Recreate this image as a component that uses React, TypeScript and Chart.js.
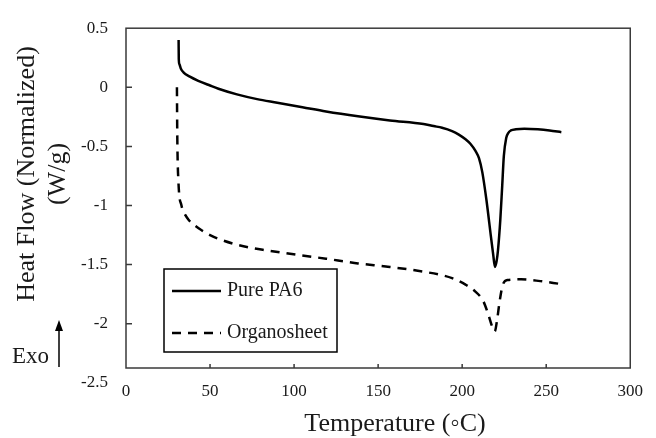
import React, { useEffect, useRef } from "react";
import { Chart, registerables } from "chart.js";

Chart.register(...registerables);

// ---- Data ----
const pureTemp = [31.3, 31.4, 31.8, 32.6, 34.3, 38, 43, 50, 55, 66, 78, 90, 105, 119, 138, 157, 177, 183, 188, 194, 198, 202, 205, 208, 210, 212, 214.5, 217, 218.5, 219.5, 220.5, 221.3, 222.7, 223.8, 224.8, 226.2, 227.5, 229, 232, 237, 245, 252, 259];
const pureHeat = [0.4, 0.24, 0.195, 0.16, 0.125, 0.09, 0.055, 0.015, -0.012, -0.06, -0.1, -0.13, -0.168, -0.204, -0.245, -0.28, -0.31, -0.328, -0.342, -0.37, -0.4, -0.44, -0.48, -0.54, -0.6, -0.72, -0.96, -1.25, -1.42, -1.52, -1.47, -1.38, -1.12, -0.84, -0.58, -0.43, -0.385, -0.365, -0.355, -0.35, -0.355, -0.365, -0.38];

const orgTemp = [30.3, 30.5, 31.2, 33, 34.5, 37.2, 41, 45, 50, 54.7, 64.3, 75, 84, 103, 119, 132, 138, 157, 177, 188, 194, 202, 207.7, 212.6, 215.5, 218.4, 219.4, 220.7, 222.3, 224.2, 227.1, 235, 246.5, 258];
const orgHeat = [0.0, -0.4, -0.8, -1.0, -1.06, -1.12, -1.17, -1.21, -1.25, -1.28, -1.325, -1.36, -1.38, -1.42, -1.45, -1.478, -1.49, -1.52, -1.56, -1.59, -1.615, -1.67, -1.727, -1.81, -1.92, -2.045, -2.065, -1.976, -1.81, -1.67, -1.63, -1.625, -1.64, -1.663];

const seriesNames = ["Pure PA6", "Organosheet"];
const xTicks = [0, 50, 100, 150, 200, 250, 300];
const yTicks = [0.5, 0, -0.5, -1, -1.5, -2, -2.5];
const xTitle = "Temperature (\u25E6C)";
const yTitleLines = ["Heat Flow (Normalized)", "(W/g)"];
const exoLabel = "Exo";

const FONT = "'Liberation Serif', 'Times New Roman', Times, serif";
const TEXT = "#1a1a1a";

const decorPlugin = {
  id: "decor",
  afterDraw(chart: any) {
    const { ctx, chartArea, scales } = chart;
    const { left, right, top, bottom } = chartArea;
    const x = scales.x;
    const y = scales.y;
    ctx.save();
    // plot box
    ctx.strokeStyle = "#3a3a3a";
    ctx.lineWidth = 1.5;
    ctx.setLineDash([]);
    ctx.strokeRect(left, top, right - left, bottom - top);
    // inside tick marks
    ctx.beginPath();
    yTicks.forEach((v) => {
      if (v >= 0.5 || v <= -2.5) return;
      const py = y.getPixelForValue(v);
      ctx.moveTo(left, py);
      ctx.lineTo(left + 6, py);
    });
    xTicks.forEach((v) => {
      if (v <= 0 || v >= 300) return;
      const px = x.getPixelForValue(v);
      ctx.moveTo(px, bottom);
      ctx.lineTo(px, bottom - 4);
    });
    ctx.stroke();

    ctx.fillStyle = TEXT;
    // x title
    ctx.font = `26px ${FONT}`;
    ctx.textAlign = "center";
    ctx.textBaseline = "middle";
    ctx.fillText(xTitle, 395, 424);
    // y title (two lines, rotated)
    ctx.save();
    ctx.translate(27, 174);
    ctx.rotate(-Math.PI / 2);
    ctx.fillText(yTitleLines[0], 0, 0);
    ctx.fillText(yTitleLines[1], 0, 31);
    ctx.restore();

    // Exo arrow
    ctx.font = `23px ${FONT}`;
    ctx.textAlign = "left";
    ctx.textBaseline = "alphabetic";
    ctx.fillText(exoLabel, 12, 363);
    ctx.strokeStyle = "#000";
    ctx.lineWidth = 1.5;
    ctx.beginPath();
    ctx.moveTo(59, 367);
    ctx.lineTo(59, 328);
    ctx.stroke();
    ctx.beginPath();
    ctx.moveTo(59, 320);
    ctx.lineTo(55, 331);
    ctx.lineTo(63, 331);
    ctx.closePath();
    ctx.fillStyle = "#000";
    ctx.fill();

    // legend
    ctx.strokeStyle = "#000";
    ctx.lineWidth = 1.5;
    ctx.strokeRect(164, 269, 173, 83);
    const rows = [291, 333];
    chart.data.datasets.forEach((ds: any, i: number) => {
      const ly = rows[i];
      ctx.beginPath();
      ctx.lineWidth = 2.5;
      ctx.setLineDash(ds.borderDash || []);
      ctx.moveTo(172, ly);
      ctx.lineTo(221, ly);
      ctx.stroke();
      ctx.setLineDash([]);
      ctx.fillStyle = TEXT;
      ctx.font = `20px ${FONT}`;
      ctx.textAlign = "left";
      ctx.textBaseline = "middle";
      ctx.fillText(ds.label, 227, ly);
    });
    ctx.restore();
  },
};

export default function App() {
  const ref = useRef<HTMLCanvasElement | null>(null);
  useEffect(() => {
    if (!ref.current) return;
    const chart = new Chart(ref.current, {
      type: "line",
      data: {
        datasets: [
          {
            label: seriesNames[0],
            data: pureTemp.map((t, i) => ({ x: t, y: pureHeat[i] })),
            borderColor: "#000",
            borderWidth: 2.5,
            pointRadius: 0,
            cubicInterpolationMode: "monotone",
            fill: false,
          },
          {
            label: seriesNames[1],
            data: orgTemp.map((t, i) => ({ x: t, y: orgHeat[i] })),
            borderColor: "#000",
            borderWidth: 2.5,
            borderDash: [9, 7],
            pointRadius: 0,
            cubicInterpolationMode: "monotone",
            fill: false,
          },
        ],
      },
      options: {
        animation: false,
        responsive: false,
        maintainAspectRatio: false,
        layout: { padding: { top: 22, right: 14, left: 0, bottom: 0 } },
        plugins: { legend: { display: false }, tooltip: { enabled: false } },
        scales: {
          x: {
            type: "linear",
            min: 0,
            max: 300,
            grid: { display: false, drawTicks: false, tickLength: 0 },
            border: { display: false },
            afterBuildTicks: (axis: any) => {
              axis.ticks = xTicks.map((v) => ({ value: v }));
            },
            afterFit: (axis: any) => {
              axis.height = 70;
            },
            ticks: {
              autoSkip: false,
              maxRotation: 0,
              padding: 13,
              color: TEXT,
              font: { family: FONT, size: 17 },
              callback: (v: any) => String(v),
            },
          },
          y: {
            type: "linear",
            min: -2.375,
            max: 0.5,
            grid: { display: false, drawTicks: false, tickLength: 0 },
            border: { display: false },
            afterBuildTicks: (axis: any) => {
              axis.ticks = yTicks.map((v) => ({ value: v }));
            },
            afterFit: (axis: any) => {
              axis.width = 126;
            },
            ticks: {
              autoSkip: false,
              padding: 18,
              color: TEXT,
              font: { family: FONT, size: 17 },
              callback: (v: any) => String(v),
            },
          },
        },
      },
      plugins: [decorPlugin],
    });
    return () => chart.destroy();
  }, []);
  return (
    <div style={{ position: "fixed", left: 0, top: 0, width: 656, height: 438, background: "#fff" }}>
      <canvas ref={ref} width={656} height={438} style={{ display: "block" }} />
    </div>
  );
}
